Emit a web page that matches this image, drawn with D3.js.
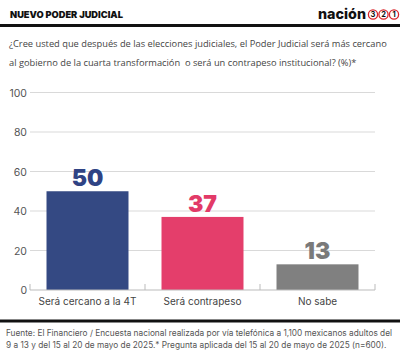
<!DOCTYPE html>
<html><head><meta charset="utf-8">
<script src="https://cdn.jsdelivr.net/npm/d3@7"></script>
<style>body{margin:0;background:#fff}svg{display:block}text{white-space:pre}</style>
</head><body>
<script>
const categories = ["Será cercano a la 4T", "Será contrapeso", "No sabe"];
const values = [50, 37, 13];
const barColors = ["#344983", "#e43e6b", "#808080"];
const labelColors = ["#2f4384", "#e23a68", "#7a7a7a"];
const yTicks = [0, 20, 40, 60, 80, 100];
const title = "NUEVO PODER JUDICIAL";
const question = ["¿Cree usted que después de las elecciones judiciales, el Poder Judicial será más cercano",
  "al gobierno de la cuarta transformación  o será un contrapeso institucional? (%)*"];
const footer = ["Fuente: El Financiero / Encuesta nacional realizada por vía telefónica a 1,100 mexicanos adultos del",
  "9 a 13 y del 15 al 20 de mayo de 2025.* Pregunta aplicada del 15 al 20 de mayo de 2025 (n=600)."];
const logoDigits = ["3", "2", "1"];

const W = 400, H = 356;
const svg = d3.select("body").append("svg").attr("width", W).attr("height", H);

// scale font size so the text's natural width matches target
function fitWidth(sel, target) {
  sel.each(function () {
    const fs = parseFloat(this.getAttribute("font-size"));
    const len = this.getComputedTextLength();
    if (len > 0) this.setAttribute("font-size", (fs * target / len).toFixed(2));
  });
}

const t = svg.append("text").attr("x", 10).attr("y", 18).text(title)
  .attr("font-family", "Inter, 'Open Sans', sans-serif").attr("font-weight", 900)
  .attr("font-size", 10).attr("fill", "#111");
fitWidth(t, 113);

// logo
const logo = svg.append("g");
const lt = logo.append("text").attr("x", 318).attr("y", 19).text("nación")
  .attr("font-family", "Inter, sans-serif").attr("font-weight", 800).attr("font-size", 16).attr("fill", "#111");
fitWidth(lt, 48);
logoDigits.forEach((dg, i) => {
  const cx = 373 + i * 10.5;
  logo.append("circle").attr("cx", cx).attr("cy", 14.5).attr("r", 4.6).attr("fill", "#fff").attr("stroke", "#d9262b").attr("stroke-width", 1.3);
  logo.append("text").attr("x", cx).attr("y", 17.4).attr("text-anchor", "middle").text(dg)
    .attr("font-family", "Inter, sans-serif").attr("font-weight", 700).attr("font-size", 7.5).attr("fill", "#111");
});

svg.append("rect").attr("x", 0).attr("y", 24).attr("width", W).attr("height", 3).attr("fill", "#111");
svg.append("rect").attr("x", 0).attr("y", 319.5).attr("width", W).attr("height", 3).attr("fill", "#111");

const q = svg.selectAll(".q").data(question).join("text").attr("class", "q")
  .attr("x", 9).attr("y", (d, i) => 47 + i * 18.5).text(d => d)
  .attr("font-family", "'Open Sans', sans-serif").attr("font-size", 10).attr("fill", "#444");
fitWidth(q.filter((d, i) => i === 0), 378);
q.filter((d, i) => i === 1).attr("font-size", q.filter((d, i) => i === 0).attr("font-size"));

const f = svg.selectAll(".f").data(footer).join("text").attr("class", "f")
  .attr("x", 6).attr("y", (d, i) => 336 + i * 11.5).text(d => d)
  .attr("font-family", "Inter, sans-serif").attr("font-size", 8.6).attr("fill", "#555");
fitWidth(f.filter((d, i) => i === 0), 386);
f.filter((d, i) => i === 1).attr("font-size", f.filter((d, i) => i === 0).attr("font-size"));

const x = d3.scaleBand().domain(categories).range([30, 375]).paddingInner(0.287).paddingOuter(0.1435);
const y = d3.scaleLinear().domain([0, 100]).range([290, 92.5]);

// grid
svg.append("g").selectAll("line").data(yTicks.filter(v => v > 0)).join("line")
  .attr("x1", 30).attr("x2", 375).attr("y1", d => y(d)).attr("y2", d => y(d))
  .attr("stroke", "#d9d9d9").attr("stroke-width", 1);

svg.append("g").selectAll("text").data(yTicks).join("text")
  .attr("x", 27).attr("y", d => y(d) + 4).attr("text-anchor", "end").text(d => d)
  .attr("font-family", "Inter, sans-serif").attr("font-size", 10.5).attr("fill", "#555");

svg.append("g").selectAll("rect").data(values).join("rect")
  .attr("x", (d, i) => x(categories[i])).attr("width", x.bandwidth())
  .attr("y", d => y(d)).attr("height", d => y(0) - y(d))
  .attr("fill", (d, i) => barColors[i]);

// x axis
const ax = svg.append("g").attr("transform", `translate(0,${y(0)})`);
ax.append("line").attr("x1", 30).attr("x2", 375).attr("stroke", "#bbb");
const tickX = [30, ...categories.slice(1).map(c => x(c) - x.step() * x.paddingInner() / 2), 375];
ax.selectAll(".t").data(tickX).join("line").attr("class", "t").attr("x1", d => d).attr("x2", d => d).attr("y1", -6).attr("y2", 0).attr("stroke", "#bbb");
ax.selectAll(".l").data(categories).join("text").attr("class", "l")
  .attr("x", d => x(d) + x.bandwidth() / 2).attr("y", 15).attr("text-anchor", "middle").text(d => d)
  .attr("font-family", "Inter, sans-serif").attr("font-size", 10).attr("fill", "#444");

svg.append("g").selectAll("text").data(values).join("text")
  .attr("x", (d, i) => x(categories[i]) + x.bandwidth() / 2).attr("y", d => y(d) - 5).attr("text-anchor", "middle").text(d => d)
  .attr("font-family", "Inter, sans-serif").attr("font-weight", 900).attr("font-size", 23).attr("fill", (d, i) => labelColors[i]);
</script>
</body></html>
